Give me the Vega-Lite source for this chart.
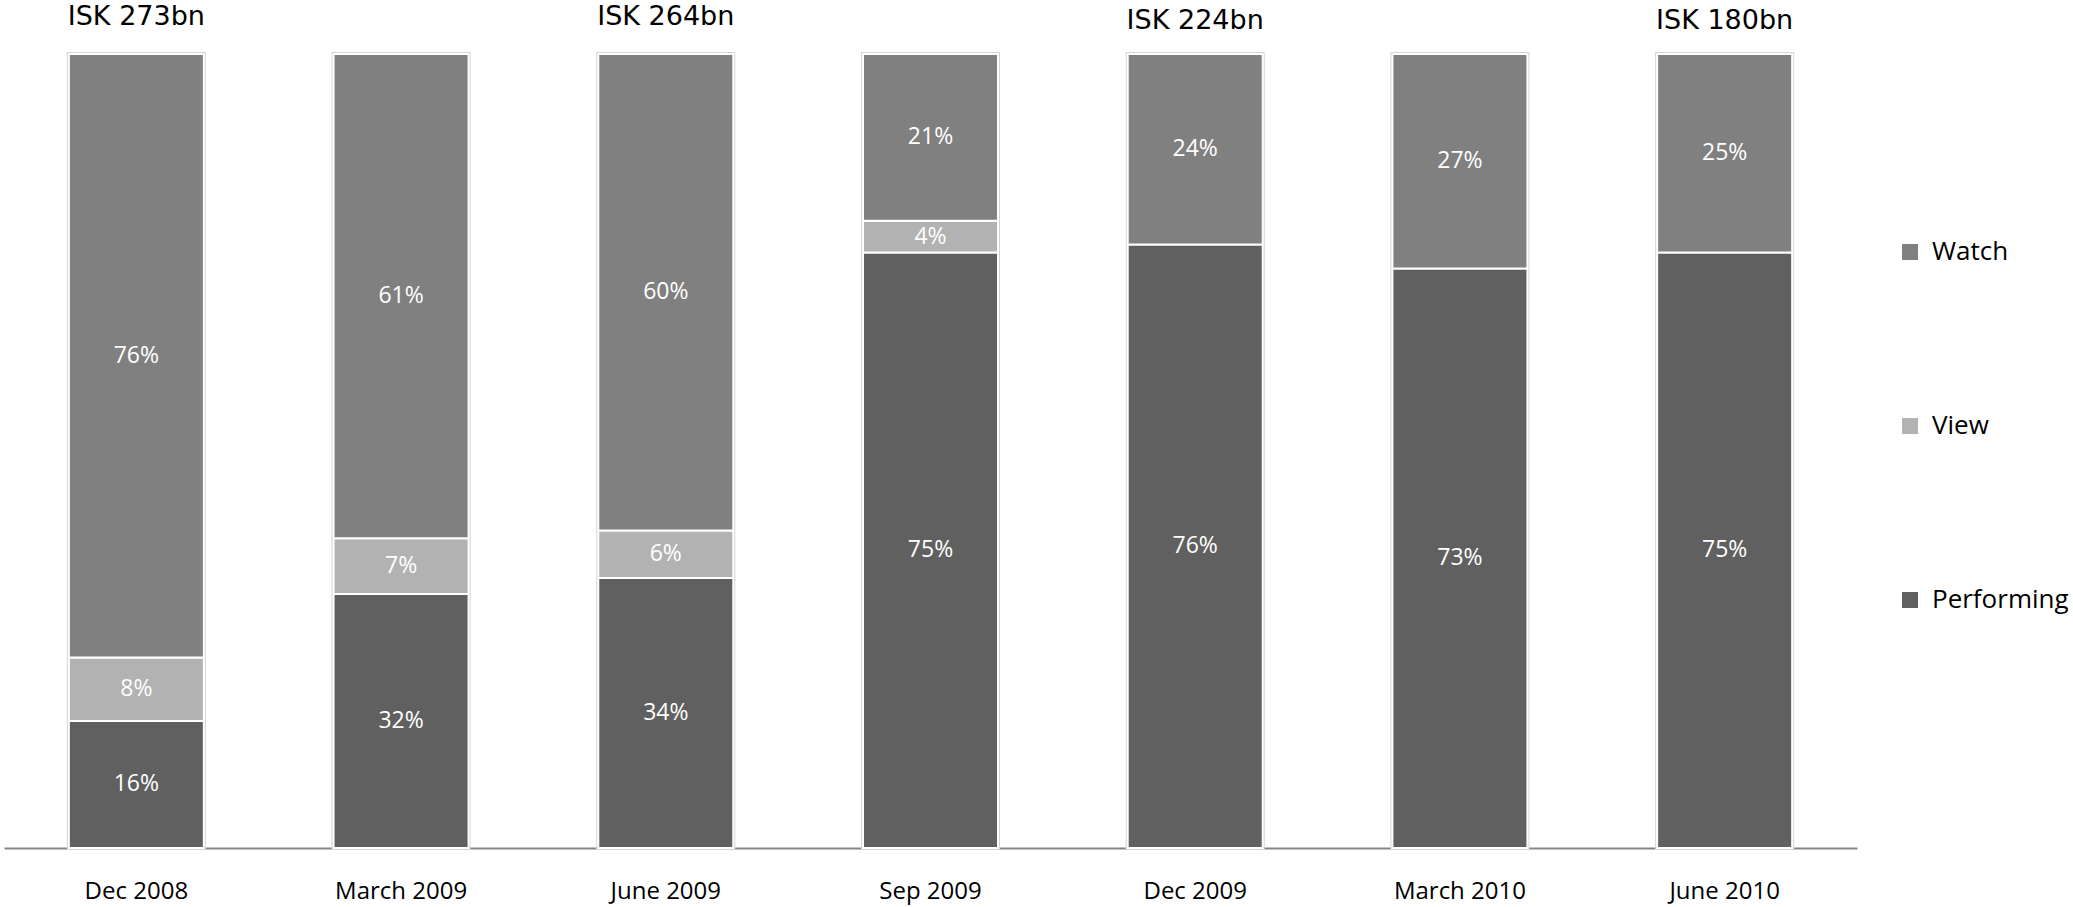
{
  "$schema": "https://vega.github.io/schema/vega-lite/v6.json",
  "autosize": {"type": "none"},
  "width": 1853,
  "height": 794,
  "padding": {"left": 4, "top": 54, "right": 216, "bottom": 59},
  "background": "white",
  "config": {"view": {"stroke": null}},
  "datasets": {
    "shares": [
      {"date": "Dec 2008", "category": "Performing", "value": 16},
      {"date": "Dec 2008", "category": "View", "value": 8},
      {"date": "Dec 2008", "category": "Watch", "value": 76},
      {"date": "March 2009", "category": "Performing", "value": 32},
      {"date": "March 2009", "category": "View", "value": 7},
      {"date": "March 2009", "category": "Watch", "value": 61},
      {"date": "June 2009", "category": "Performing", "value": 34},
      {"date": "June 2009", "category": "View", "value": 6},
      {"date": "June 2009", "category": "Watch", "value": 60},
      {"date": "Sep 2009", "category": "Performing", "value": 75},
      {"date": "Sep 2009", "category": "View", "value": 4},
      {"date": "Sep 2009", "category": "Watch", "value": 21},
      {"date": "Dec 2009", "category": "Performing", "value": 76},
      {"date": "Dec 2009", "category": "Watch", "value": 24},
      {"date": "March 2010", "category": "Performing", "value": 73},
      {"date": "March 2010", "category": "Watch", "value": 27},
      {"date": "June 2010", "category": "Performing", "value": 75},
      {"date": "June 2010", "category": "Watch", "value": 25}
    ],
    "totals": [
      {"date": "Dec 2008", "label": "ISK 273bn"},
      {"date": "June 2009", "label": "ISK 264bn"},
      {"date": "Dec 2009", "label": "ISK 224bn"},
      {"date": "June 2010", "label": "ISK 180bn"}
    ]
  },
  "encoding": {
    "x": {
      "field": "date",
      "type": "nominal",
      "sort": ["Dec 2008", "March 2009", "June 2009", "Sep 2009", "Dec 2009", "March 2010", "June 2010"],
      "scale": {"paddingInner": 0.49, "paddingOuter": 0.245},
      "axis": {
        "title": null,
        "labelAngle": 0,
        "ticks": false,
        "domain": true,
        "domainColor": "#868686",
        "domainWidth": 2,
        "labelFont": "Open Sans",
        "labelFontSize": 24,
        "labelColor": "#000000",
        "labelBaseline": "middle",
        "labelPadding": 43,
        "grid": false
      }
    }
  },
  "layer": [
    {
      "data": {"name": "shares"},
      "mark": {"type": "bar", "fill": "white", "stroke": "#d4d4d4", "strokeWidth": 4},
      "encoding": {
        "y": {"aggregate": "sum", "field": "value", "type": "quantitative", "scale": {"domain": [0, 100], "nice": false}, "axis": null}
      }
    },
    {
      "data": {"name": "shares"},
      "mark": {"type": "bar", "stroke": "white", "strokeWidth": 2},
      "encoding": {
        "y": {"field": "value", "type": "quantitative", "stack": "zero", "scale": {"domain": [0, 100], "nice": false}, "axis": null},
        "color": {
          "field": "category",
          "type": "nominal",
          "scale": {"domain": ["Watch", "View", "Performing"], "range": ["#808080", "#b2b2b2", "#606060"]},
          "legend": {
            "title": null,
            "orient": "none",
            "legendX": 1893,
            "legendY": 185,
            "symbolType": "square",
            "symbolSize": 256,
            "symbolStrokeWidth": 0,
            "labelFont": "Open Sans",
            "labelFontSize": 26,
            "labelColor": "#000000",
            "labelOffset": 9,
            "rowPadding": 148,
            "padding": 0
          }
        },
        "order": {"field": "category", "sort": "ascending"}
      }
    },
    {
      "data": {"name": "shares"},
      "transform": [
        {"stack": "value", "groupby": ["date"], "sort": [{"field": "category", "order": "ascending"}], "as": ["y0", "y1"]},
        {"calculate": "(datum.y0 + datum.y1) / 2", "as": "mid"},
        {"calculate": "datum.value + '%'", "as": "pct"}
      ],
      "mark": {"type": "text", "color": "white", "font": "Open Sans", "fontSize": 23, "baseline": "middle", "align": "center"},
      "encoding": {
        "y": {"field": "mid", "type": "quantitative", "scale": {"domain": [0, 100], "nice": false}, "axis": null},
        "text": {"field": "pct"}
      }
    },
    {
      "data": {"name": "totals"},
      "transform": [{"filter": "datum.date == 'Dec 2008' || datum.date == 'June 2009'"}],
      "mark": {"type": "text", "color": "#000000", "font": "DejaVu Sans", "fontSize": 27, "baseline": "middle", "align": "center", "dy": -37},
      "encoding": {
        "y": {"datum": 100, "type": "quantitative", "scale": {"domain": [0, 100], "nice": false}, "axis": null},
        "text": {"field": "label"}
      }
    },
    {
      "data": {"name": "totals"},
      "transform": [{"filter": "datum.date == 'Dec 2009' || datum.date == 'June 2010'"}],
      "mark": {"type": "text", "color": "#000000", "font": "DejaVu Sans", "fontSize": 27, "baseline": "middle", "align": "center", "dy": -33},
      "encoding": {
        "y": {"datum": 100, "type": "quantitative", "scale": {"domain": [0, 100], "nice": false}, "axis": null},
        "text": {"field": "label"}
      }
    }
  ]
}
